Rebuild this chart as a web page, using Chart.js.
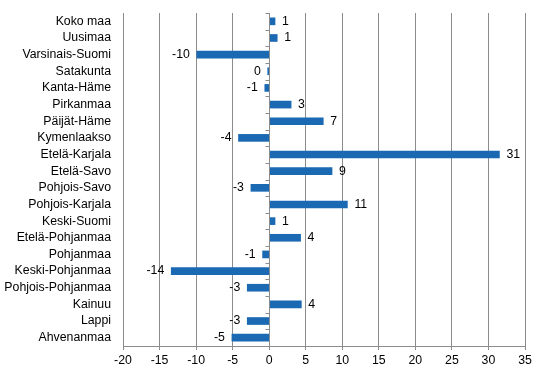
<!DOCTYPE html>
<html>
<head>
<meta charset="utf-8">
<script src="https://cdn.jsdelivr.net/npm/chart.js@4/dist/chart.umd.min.js"></script>
<style>
  html, body { margin: 0; padding: 0; background: #fff; }
  #wrap { width: 546px; height: 376px; }
</style>
</head>
<body>
<div id="wrap"><canvas id="chart" width="546" height="376"></canvas></div>
<script>
// regions, top to bottom
const regions = ["Koko maa", "Uusimaa", "Varsinais-Suomi", "Satakunta", "Kanta-Häme", "Pirkanmaa",
    "Päijät-Häme", "Kymenlaakso", "Etelä-Karjala", "Etelä-Savo", "Pohjois-Savo", "Pohjois-Karjala",
    "Keski-Suomi", "Etelä-Pohjanmaa", "Pohjanmaa", "Keski-Pohjanmaa", "Pohjois-Pohjanmaa", "Kainuu",
    "Lappi", "Ahvenanmaa"];
// bar lengths
const values = [0.8, 1.1, -9.9, -0.2, -0.6, 3.0, 7.4, -4.2, 31.5, 8.6, -2.5, 10.7,
    0.8, 4.3, -0.9, -13.4, -3.0, 4.4, -3.0, -5.1];
// printed labels next to the bars
const valueLabels = ["1", "1", "-10", "0", "-1", "3", "7", "-4", "31", "9", "-3", "11",
    "1", "4", "-1", "-14", "-3", "4", "-3", "-5"];
const xMin = -20, xMax = 35, xStep = 5;

const FONT = "'Liberation Sans', Arial, sans-serif";
const gridColor = "#8c8c8c";

// value labels beside each bar
const barLabels = {
    id: "barLabels",
    afterDatasetsDraw(chart) {
        const ctx = chart.ctx;
        const meta = chart.getDatasetMeta(0);
        ctx.save();
        ctx.font = "12.3px " + FONT;
        ctx.fillStyle = "#000";
        ctx.textBaseline = "middle";
        meta.data.forEach((bar, i) => {
            if (values[i] >= 0) {
                ctx.textAlign = "left";
                ctx.fillText(valueLabels[i], bar.x + 7, bar.y);
            } else {
                ctx.textAlign = "right";
                ctx.fillText(valueLabels[i], bar.x - 7, bar.y);
            }
        });
        ctx.restore();
    }
};

// category axis line at zero with small ticks
const zeroAxis = {
    id: "zeroAxis",
    afterDatasetsDraw(chart) {
        const ctx = chart.ctx;
        const area = chart.chartArea;
        const x0 = Math.round(chart.scales.x.getPixelForValue(0)) + 0.5;
        const n = regions.length;
        const h = (area.bottom - area.top) / n;
        ctx.save();
        ctx.strokeStyle = gridColor;
        ctx.lineWidth = 1;
        ctx.beginPath();
        ctx.moveTo(x0, area.top);
        ctx.lineTo(x0, area.bottom);
        for (let i = 0; i <= n; i++) {
            const y = Math.round(area.top + i * h) + 0.5;
            ctx.moveTo(x0 - 4, y);
            ctx.lineTo(x0, y);
        }
        ctx.stroke();
        ctx.restore();
    }
};

new Chart(document.getElementById("chart").getContext("2d"), {
    type: "bar",
    data: {
        labels: regions,
        datasets: [{
            data: values,
            backgroundColor: "#1b69b3",
            barThickness: 7,
        }],
    },
    options: {
        indexAxis: "y",
        responsive: false,
        animation: false,
        layout: { padding: { top: 13, right: 21, left: 0, bottom: 0 } },
        plugins: {
            legend: { display: false },
            tooltip: { enabled: false },
        },
        scales: {
            x: {
                min: xMin,
                max: xMax,
                ticks: {
                    stepSize: xStep,
                    color: "#000",
                    font: { family: FONT, size: 12.3 },
                    padding: 3,
                },
                grid: { color: gridColor, tickLength: 4 },
                border: { color: gridColor },
                afterFit(scale) { scale.height = 30; },
            },
            y: {
                ticks: {
                    color: "#000",
                    font: { family: FONT, size: 12.3 },
                    padding: 4,
                    autoSkip: false,
                },
                grid: { display: false },
                border: { display: false },
                afterFit(scale) { scale.width = 123; },
            },
        },
    },
    plugins: [barLabels, zeroAxis],
});
</script>
</body>
</html>
